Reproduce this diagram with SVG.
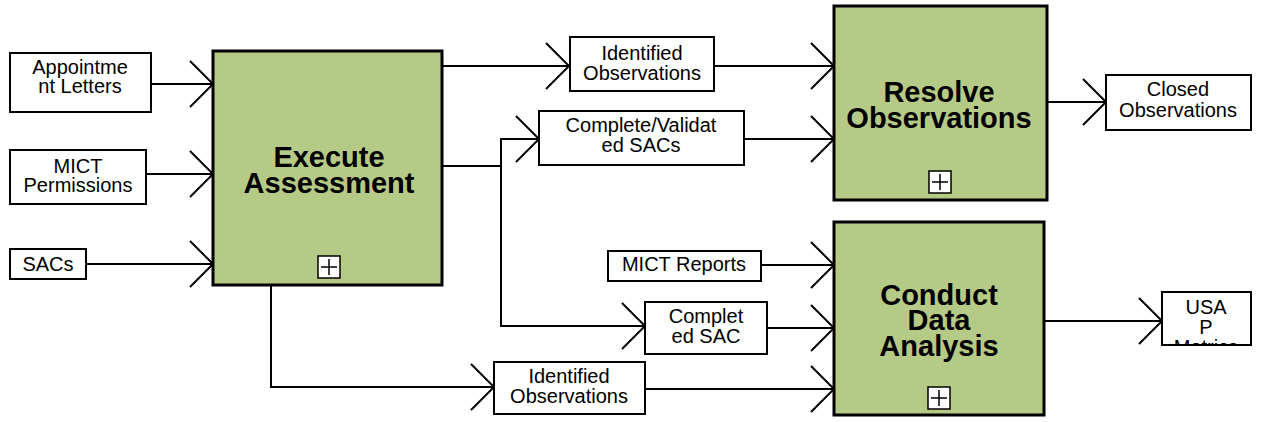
<svg xmlns="http://www.w3.org/2000/svg" width="1261" height="422" viewBox="0 0 1261 422">
<style>
.act{fill:#b6ca87;stroke:#000;stroke-width:3}
.obj{fill:#fff;stroke:#000;stroke-width:2}
.plus{fill:#fff;stroke:#000;stroke-width:1.5}
.t{font-family:"Liberation Sans",Arial,sans-serif;font-size:20px;text-anchor:middle;fill:#000}
.tb{font-family:"Liberation Sans",Arial,sans-serif;font-size:29px;font-weight:bold;text-anchor:middle;fill:#000}
.c{fill:none;stroke:#000;stroke-width:2}
</style>
<defs>
<marker id="ah" markerUnits="userSpaceOnUse" markerWidth="30" markerHeight="52" viewBox="-26 -26 30 52" refX="0" refY="0" orient="auto">
<path d="M-23,-23 L0,0 L-23,23" fill="none" stroke="#000" stroke-width="2"/>
</marker>
<clipPath id="clipU"><rect x="1162" y="292" width="90" height="53"/></clipPath>
</defs>
<g id="connectors">
<path class="c" d="M151,84 H213" marker-end="url(#ah)"/>
<path class="c" d="M146,174 H213" marker-end="url(#ah)"/>
<path class="c" d="M86,264 H213" marker-end="url(#ah)"/>
<path class="c" d="M442,66 H569" marker-end="url(#ah)"/>
<path class="c" d="M714,66 H834" marker-end="url(#ah)"/>
<path class="c" d="M442,166 H501 V139 H539" marker-end="url(#ah)"/>
<path class="c" d="M501,166 V326 H645" marker-end="url(#ah)"/>
<path class="c" d="M744,139 H834" marker-end="url(#ah)"/>
<path class="c" d="M761,265 H834" marker-end="url(#ah)"/>
<path class="c" d="M767,328 H834" marker-end="url(#ah)"/>
<path class="c" d="M271,285 V387 H494" marker-end="url(#ah)"/>
<path class="c" d="M645,389 H834" marker-end="url(#ah)"/>
<path class="c" d="M1047,102 H1106" marker-end="url(#ah)"/>
<path class="c" d="M1044,321 H1162" marker-end="url(#ah)"/>
</g>
<g id="execute-assessment">
<rect class="act" x="213" y="51" width="229" height="234"/>
<text class="tb" x="329" y="167">Execute</text>
<text class="tb" x="329" y="193">Assessment</text>
<rect class="plus" x="318" y="256" width="22" height="22"/>
<path d="M321,267 H337 M329,259 V275" stroke="#000" stroke-width="1.5"/>
</g>
<g id="resolve-observations">
<rect class="act" x="834" y="6" width="213" height="194"/>
<text class="tb" x="939" y="102">Resolve</text>
<text class="tb" x="939" y="128">Observations</text>
<rect class="plus" x="929" y="171" width="22" height="22"/>
<path d="M932,182 H948 M940,174 V190" stroke="#000" stroke-width="1.5"/>
</g>
<g id="conduct-data-analysis">
<rect class="act" x="834" y="222" width="210" height="193"/>
<text class="tb" x="939" y="305">Conduct</text>
<text class="tb" x="939" y="330">Data</text>
<text class="tb" x="939" y="356">Analysis</text>
<rect class="plus" x="928" y="387" width="22" height="22"/>
<path d="M931,398 H947 M939,390 V406" stroke="#000" stroke-width="1.5"/>
</g>
<g id="appointment-letters">
<rect class="obj" x="10" y="53" width="141" height="59"/>
<text class="t" x="80" y="74">Appointme</text>
<text class="t" x="80" y="93">nt Letters</text>
</g>
<g id="mict-permissions">
<rect class="obj" x="10" y="150" width="136" height="54"/>
<text class="t" x="78" y="173">MICT</text>
<text class="t" x="78" y="192">Permissions</text>
</g>
<g id="sacs">
<rect class="obj" x="10" y="249" width="76" height="30"/>
<text class="t" x="48" y="271">SACs</text>
</g>
<g id="identified-observations-1">
<rect class="obj" x="570" y="37" width="144" height="54"/>
<text class="t" x="642" y="60">Identified</text>
<text class="t" x="642" y="80">Observations</text>
</g>
<g id="complete-validated-sacs">
<rect class="obj" x="539" y="111" width="205" height="54"/>
<text class="t" x="641" y="132">Complete/Validat</text>
<text class="t" x="641" y="152">ed SACs</text>
</g>
<g id="mict-reports">
<rect class="obj" x="608" y="251" width="153" height="30"/>
<text class="t" x="684" y="271">MICT Reports</text>
</g>
<g id="completed-sac">
<rect class="obj" x="645" y="302" width="122" height="52"/>
<text class="t" x="706" y="323">Complet</text>
<text class="t" x="706" y="343">ed SAC</text>
</g>
<g id="identified-observations-2">
<rect class="obj" x="494" y="362" width="151" height="52"/>
<text class="t" x="569" y="383">Identified</text>
<text class="t" x="569" y="403">Observations</text>
</g>
<g id="closed-observations">
<rect class="obj" x="1106" y="75" width="145" height="55"/>
<text class="t" x="1178" y="96">Closed</text>
<text class="t" x="1178" y="117">Observations</text>
</g>
<g id="usap-metrics">
<rect class="obj" x="1162" y="292" width="89" height="53"/>
<g clip-path="url(#clipU)">
<text class="t" x="1206" y="314">USA</text>
<text class="t" x="1206" y="334">P</text>
<text class="t" x="1206" y="354">Metrics</text>
</g>
</g>
</svg>
